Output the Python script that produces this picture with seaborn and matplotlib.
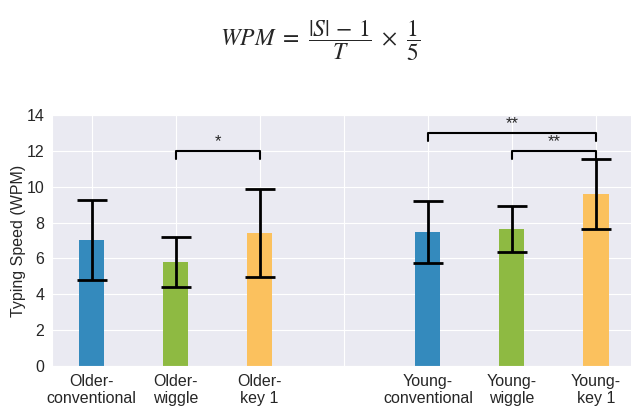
"""typing speed bar chart with significance brackets"""

import pandas as pd
import seaborn as sns
import matplotlib.pyplot as plt

# data
groups = ["Older-\nconventional", "Older-\nwiggle", "Older-\nkey 1",
          "Young-\nconventional", "Young-\nwiggle", "Young-\nkey 1"]
means = [7.03, 5.80, 7.42, 7.47, 7.64, 9.60]
sds = [2.25, 1.40, 2.46, 1.75, 1.27, 1.95]
bar_colors = ["#348ABD", "#8EBA42", "#FBC15E", "#348ABD", "#8EBA42", "#FBC15E"]
# (left group, right group, bracket height, label)
sig_pairs = [("Older-\nwiggle", "Older-\nkey 1", 12.0, "*"),
             ("Young-\nconventional", "Young-\nkey 1", 13.0, "**"),
             ("Young-\nwiggle", "Young-\nkey 1", 12.0, "**")]

# blank slot between the two age groups
order = groups[:3] + [" "] + groups[3:]

sns.set_style("darkgrid")
plt.rcParams["font.family"] = ["Liberation Sans", "DejaVu Sans"]
plt.rcParams["mathtext.fontset"] = "stix"

fig = plt.figure(figsize=(6.31, 4.07), dpi=100)
ax = fig.add_axes([52 / 631, 0.1007, 586 / 631, 0.6167])

df = pd.DataFrame({"group": groups, "wpm": means})
sns.barplot(data=df, x="group", y="wpm", order=order, hue="group",
            palette=dict(zip(groups, bar_colors)), width=0.3,
            saturation=1, legend=False, linewidth=0, ax=ax)

pos = [order.index(g) for g in groups]
ax.errorbar(pos, means, yerr=sds, fmt="none", ecolor="black",
            elinewidth=2, capsize=11, capthick=2)

# significance brackets
for left, right, h, label in sig_pairs:
    x1, x2 = order.index(left), order.index(right)
    ax.plot([x1, x1, x2, x2], [h - 0.45, h, h, h - 0.45], color="black", lw=1.5)
    ax.text((x1 + x2) / 2, h + 0.1, label, ha="center", va="bottom",
            fontsize=12, color="#262626")

ax.xaxis.grid(True)
ax.set_axisbelow(True)
ax.set_xlim(-0.47, 6.5)
ax.set_ylim(0, 14)
ax.set_xlabel("")
ax.set_ylabel("Typing Speed (WPM)", fontsize=11.5, labelpad=0)
ax.tick_params(axis="both", labelsize=11.5, pad=2)

fig.text(0.507, 0.9, r"$WPM\ =\ \dfrac{|S|\,-\,1}{T}\ \times\ \dfrac{1}{5}$",
         ha="center", va="center", fontsize=17)

plt.savefig("out.png", dpi=100)
plt.close()
